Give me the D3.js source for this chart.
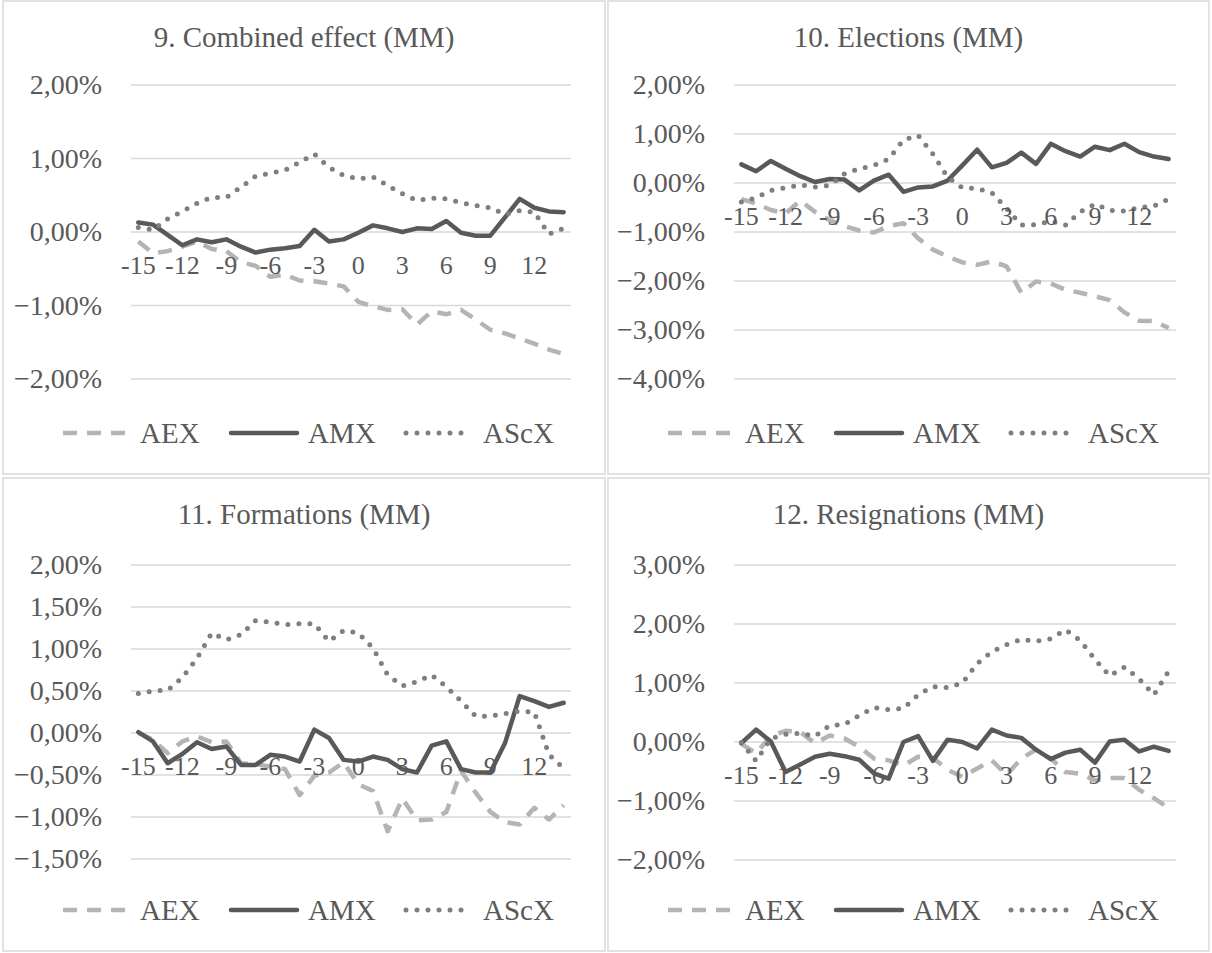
<!DOCTYPE html>
<html><head><meta charset="utf-8">
<script src="https://cdn.jsdelivr.net/npm/d3@7/dist/d3.min.js"></script>
</head><body style="margin:0">
<svg id="chart" width="1212" height="953"></svg>
<script>
// event days (category axis) and the ones that get a label
const days = [-15, -14, -13, -12, -11, -10, -9, -8, -7, -6, -5, -4, -3, -2, -1,
  0, 1, 2, 3, 4, 5, 6, 7, 8, 9, 10, 11, 12, 13, 14];
const dayLabels = [-15, -12, -9, -6, -3, 0, 3, 6, 9, 12];
const seriesNames = ["AEX", "AMX", "AScX"];
const titles = ["9. Combined effect (MM)", "10. Elections (MM)", "11. Formations (MM)", "12. Resignations (MM)"];

// y tick values (percent)
const yTicksCombined = [2, 1, 0, -1, -2];
const yTicksElections = [2, 1, 0, -1, -2, -3, -4];
const yTicksFormations = [2, 1.5, 1, 0.5, 0, -0.5, -1, -1.5];
const yTicksResignations = [3, 2, 1, 0, -1, -2];

// cumulative abnormal returns in percent
const aexCombined = [-0.13, -0.29, -0.26, -0.20, -0.13, -0.23, -0.26, -0.41, -0.46, -0.61, -0.58, -0.66, -0.67, -0.70, -0.74,
  -0.95, -1.01, -1.06, -1.05, -1.26, -1.08, -1.12, -1.06, -1.19, -1.33, -1.38, -1.45, -1.52, -1.60, -1.66];
const amxCombined = [0.13, 0.10, -0.04, -0.18, -0.10, -0.14, -0.10, -0.20, -0.28, -0.24, -0.22, -0.19, 0.03, -0.13, -0.10,
  -0.01, 0.09, 0.05, 0.00, 0.05, 0.04, 0.15, -0.01, -0.05, -0.05, 0.20, 0.45, 0.33, 0.28, 0.27];
const ascxCombined = [0.06, 0.03, 0.18, 0.28, 0.39, 0.47, 0.47, 0.61, 0.76, 0.80, 0.84, 0.95, 1.06, 0.88, 0.77,
  0.72, 0.75, 0.63, 0.52, 0.43, 0.46, 0.45, 0.40, 0.36, 0.33, 0.24, 0.29, 0.27, -0.03, 0.05];

const aexElections = [-0.33, -0.42, -0.55, -0.62, -0.36, -0.59, -0.76, -0.88, -0.97, -1.01, -0.88, -0.82, -1.13, -1.36, -1.50,
  -1.62, -1.67, -1.60, -1.70, -2.24, -2.01, -2.05, -2.18, -2.24, -2.31, -2.39, -2.64, -2.81, -2.82, -2.96];
const amxElections = [0.38, 0.24, 0.45, 0.29, 0.14, 0.02, 0.08, 0.07, -0.15, 0.05, 0.17, -0.18, -0.09, -0.07, 0.05,
  0.36, 0.68, 0.32, 0.41, 0.62, 0.39, 0.80, 0.65, 0.54, 0.74, 0.67, 0.80, 0.63, 0.54, 0.49];
const ascxElections = [-0.39, -0.30, -0.15, -0.10, -0.04, -0.08, -0.05, 0.19, 0.29, 0.36, 0.49, 0.88, 0.97, 0.59, 0.12,
  -0.10, -0.11, -0.20, -0.52, -0.86, -0.85, -0.78, -0.86, -0.59, -0.43, -0.56, -0.57, -0.50, -0.47, -0.33];

const aexFormations = [0.00, -0.08, -0.24, -0.10, -0.04, -0.11, -0.10, -0.36, -0.37, -0.40, -0.43, -0.74, -0.51, -0.47, -0.35,
  -0.61, -0.69, -1.17, -0.78, -1.04, -1.03, -0.94, -0.45, -0.71, -0.94, -1.06, -1.09, -0.89, -1.03, -0.86];
const amxFormations = [0.01, -0.10, -0.36, -0.25, -0.11, -0.19, -0.16, -0.38, -0.38, -0.26, -0.28, -0.34, 0.04, -0.06, -0.32,
  -0.34, -0.28, -0.32, -0.43, -0.47, -0.15, -0.10, -0.43, -0.47, -0.47, -0.12, 0.44, 0.38, 0.31, 0.36];
const ascxFormations = [0.47, 0.50, 0.51, 0.66, 0.89, 1.19, 1.11, 1.17, 1.34, 1.32, 1.29, 1.30, 1.30, 1.09, 1.22,
  1.19, 1.01, 0.69, 0.56, 0.61, 0.69, 0.55, 0.38, 0.20, 0.20, 0.23, 0.26, 0.25, -0.26, -0.42];

const aexResignations = [-0.03, -0.19, 0.10, 0.19, 0.17, -0.02, 0.11, 0.06, -0.08, -0.28, -0.31, -0.40, -0.25, -0.27, -0.47,
  -0.59, -0.45, -0.31, -0.56, -0.28, -0.13, -0.28, -0.51, -0.54, -0.65, -0.61, -0.61, -0.81, -0.95, -1.12];
const amxResignations = [-0.02, 0.21, 0.01, -0.51, -0.38, -0.25, -0.20, -0.24, -0.30, -0.53, -0.62, 0.00, 0.10, -0.32, 0.04,
  0.00, -0.11, 0.21, 0.11, 0.07, -0.13, -0.29, -0.18, -0.13, -0.35, 0.01, 0.04, -0.16, -0.08, -0.15];
const ascxResignations = [-0.01, -0.32, 0.06, 0.13, 0.15, 0.10, 0.28, 0.30, 0.45, 0.58, 0.55, 0.57, 0.80, 0.94, 0.92,
  1.00, 1.33, 1.53, 1.65, 1.74, 1.71, 1.75, 1.90, 1.72, 1.40, 1.12, 1.27, 1.07, 0.80, 1.20];

// line styles, same order as seriesNames
const seriesStyle = [
  { color: "#b4b4b4", width: 4.5, dash: "14,10", cap: "butt" },
  { color: "#595959", width: 4.5, dash: null, cap: "round" },
  { color: "#7f7f7f", width: 5, dash: "0,11", cap: "round" }
];

const panels = [
  { title: titles[0], box: [3, 1, 605, 474], plot: [131, 85, 571, 379], ticks: yTicksCombined,
    series: [aexCombined, amxCombined, ascxCombined] },
  { title: titles[1], box: [608, 1, 1209, 474], plot: [734, 85, 1176, 379], ticks: yTicksElections,
    series: [aexElections, amxElections, ascxElections] },
  { title: titles[2], box: [3, 478, 605, 951], plot: [131, 565, 571, 859], ticks: yTicksFormations,
    series: [aexFormations, amxFormations, ascxFormations] },
  { title: titles[3], box: [608, 478, 1209, 951], plot: [734, 565, 1176, 860], ticks: yTicksResignations,
    series: [aexResignations, amxResignations, ascxResignations] }
];

const fontNames = ["Liberation Serif"];
const svg = d3.select("#chart");
const fmt = v => d3.format(".2f")(v).replace(".", ",") + "%";

panels.forEach(p => {
  const [bx0, by0, bx1, by1] = p.box;
  const [px0, py0, px1, py1] = p.plot;
  const g = svg.append("g");

  // chart frame
  g.append("rect")
    .attr("x", bx0).attr("y", by0)
    .attr("width", bx1 - bx0).attr("height", by1 - by0)
    .attr("fill", "#fff").attr("stroke", "#d9d9d9").attr("stroke-width", 1.5);

  const x = d3.scalePoint().domain(days).range([px0, px1]).padding(0.5);
  const y = d3.scaleLinear().domain(d3.extent(p.ticks)).range([py1, py0]);

  // gridlines
  g.selectAll(".grid").data(p.ticks).join("line")
    .attr("x1", px0).attr("x2", px1)
    .attr("y1", d => y(d)).attr("y2", d => y(d))
    .attr("stroke", "#d9d9d9").attr("stroke-width", 1.5);

  const line = d3.line().x((d, i) => x(days[i])).y(d => y(d));
  p.series.forEach((s, k) => {
    const st = seriesStyle[k];
    g.append("path")
      .datum(s)
      .attr("d", line)
      .attr("fill", "none")
      .attr("stroke", st.color)
      .attr("stroke-width", st.width)
      .attr("stroke-linejoin", "round")
      .attr("stroke-linecap", st.cap)
      .attr("stroke-dasharray", st.dash);
  });

  const ly = by0 + 432;
  const legendX = [bx0 + 60, bx0 + 228, bx0 + 403];
  seriesNames.forEach((name, k) => {
    const st = seriesStyle[k];
    g.append("line")
      .attr("x1", legendX[k]).attr("x2", legendX[k] + 66)
      .attr("y1", ly).attr("y2", ly)
      .attr("stroke", st.color)
      .attr("stroke-width", st.width)
      .attr("stroke-linecap", st.cap)
      .attr("stroke-dasharray", st.dash);
  });

  // collect the texts of this panel, then draw them the same way
  const texts = [];
  p.ticks.forEach(t => texts.push([px0 - 29, y(t) + 9, fmt(t), 28, "end"]));
  dayLabels.forEach(d => texts.push([x(d), y(0) + 42, String(d), 26, "middle"]));
  texts.push([(bx0 + bx1) / 2, by0 + 46, p.title, 29, "middle"]);
  seriesNames.forEach((name, k) => texts.push([legendX[k] + 77, ly + 10, name, 29, "start"]));

  texts.forEach(([tx, ty, str, size, anchor]) => {
    fontNames.forEach(f => {
      svg.append("text").attr("x", tx).attr("y", ty)
        .style("font-family", `"${f}"`).style("font-size", size + "px")
        .attr("fill", "#595959")
        .attr("text-anchor", anchor)
        .text(str);
      svg.select("text:last-child").node().getComputedTextLength();
    });
  });
});
</script>
</body></html>
